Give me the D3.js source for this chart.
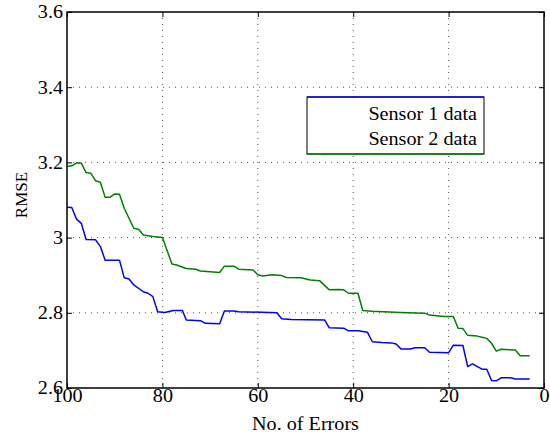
<!DOCTYPE html>
<html>
<head>
<meta charset="utf-8">
<script src="https://cdn.jsdelivr.net/npm/d3@7/dist/d3.min.js"></script>
<style>
  html, body { margin: 0; padding: 0; background: #fff; }
  svg { display: block; }
  svg text { font-family: "Liberation Serif", "Times New Roman", serif !important; fill: #000; }
</style>
</head>
<body>
<svg id="chart" width="550" height="436"></svg>
<script>
// ---- data ----
const sensor1X = [100,99,98,97,96,94,93,92,89,88,87,86,84,83,82,81,79.5,77.7,75.8,75,72,71,68,67,65,64,56,55,53,46,45,42,41,39,37,36,34,32,31,30,28,27,25,24,20,19,17,16,15,13,12,11,10,9,7,6,3];
const sensor1Y = [3.081,3.080,3.049,3.038,2.995,2.994,2.976,2.940,2.940,2.893,2.890,2.874,2.856,2.852,2.843,2.803,2.801,2.806,2.806,2.781,2.779,2.772,2.771,2.805,2.805,2.803,2.800,2.784,2.782,2.781,2.760,2.759,2.752,2.752,2.748,2.723,2.721,2.720,2.717,2.704,2.704,2.707,2.707,2.695,2.694,2.714,2.713,2.657,2.664,2.650,2.650,2.620,2.619,2.627,2.627,2.624,2.624];
const sensor2X = [100,99,98,97,96,95,94,93,92,91,90,89,88,86,85,84,82,80,78,77,75,73,72,70,68,67,65,64,61,60,59,57,55,54,51,49,47,45,43,42,41,39,38,36,30,25,24,21,19,18,17,16,14,13,12,11,10,9,6,5,3];
const sensor2Y = [3.189,3.191,3.199,3.198,3.173,3.171,3.151,3.147,3.107,3.107,3.116,3.115,3.078,3.025,3.022,3.007,3.003,3.000,2.930,2.927,2.918,2.916,2.911,2.909,2.907,2.924,2.924,2.916,2.914,2.901,2.898,2.901,2.899,2.894,2.893,2.887,2.885,2.861,2.862,2.861,2.852,2.852,2.806,2.804,2.801,2.799,2.794,2.790,2.790,2.759,2.758,2.740,2.738,2.735,2.732,2.719,2.698,2.703,2.701,2.686,2.686];
const xTicks = [100,80,60,40,20,0];
const yTicks = [2.6,2.8,3.0,3.2,3.4,3.6];
const yTickLabels = ["2.6","2.8","3","3.2","3.4","3.6"];
const seriesNames = ["Sensor 1 data","Sensor 2 data"];
const seriesColors = ["#0000ff","#008000"];

// ---- layout ----
const FONT = '"Liberation Serif", "Times New Roman", serif';
const L = 67, R = 544, T = 12, B = 388;
const svg = d3.select("#chart");
const x = d3.scaleLinear().domain([100,0]).range([L,R]);
const y = d3.scaleLinear().domain([2.6,3.6]).range([B,T]);
const SX = 1.12; // horizontal text stretch

// grid
const grid = svg.append("g");
grid.selectAll("line.vx").data(xTicks.slice(1,-1)).enter().append("line")
  .attr("x1", d=>x(d)).attr("x2", d=>x(d)).attr("y1", T).attr("y2", B)
  .attr("stroke","#555").attr("stroke-width",1).attr("stroke-dasharray","1,5");
grid.selectAll("line.hy").data(yTicks.slice(1,-1)).enter().append("line")
  .attr("y1", d=>y(d)).attr("y2", d=>y(d)).attr("x1", L).attr("x2", R)
  .attr("stroke","#555").attr("stroke-width",1).attr("stroke-dasharray","1,5");

// lines
const series = [
  sensor1X.map((v,i)=>[v, sensor1Y[i]]),
  sensor2X.map((v,i)=>[v, sensor2Y[i]])
];
const line = d3.line().x(d=>x(d[0])).y(d=>y(d[1]));
svg.selectAll("path.series").data(series).enter().append("path")
  .attr("d", line).attr("fill","none")
  .attr("stroke", (d,i)=>seriesColors[i]).attr("stroke-width",1.5)
  .attr("stroke-linejoin","round");

// axes
const fmtY = d => yTickLabels[yTicks.findIndex(t=>Math.abs(t-d)<1e-9)];
const gx = svg.append("g").attr("transform",`translate(0,${B})`)
  .call(d3.axisBottom(x).tickValues(xTicks).tickSizeInner(-5).tickSizeOuter(0).tickFormat(d3.format("d")));
const gy = svg.append("g").attr("transform",`translate(${L},0)`)
  .call(d3.axisLeft(y).tickValues(yTicks).tickSizeInner(-5).tickSizeOuter(0).tickFormat(fmtY));
svg.append("g").attr("transform",`translate(0,${T})`)
  .call(d3.axisTop(x).tickValues(xTicks).tickSizeInner(-5).tickSizeOuter(0).tickFormat(""));
svg.append("g").attr("transform",`translate(${R},0)`)
  .call(d3.axisRight(y).tickValues(yTicks).tickSizeInner(-5).tickSizeOuter(0).tickFormat(""));
svg.selectAll(".domain").remove();
svg.selectAll("g").attr("font-family", FONT);
svg.selectAll(".tick line").attr("stroke","#000").attr("stroke-width",1);

gx.selectAll("text").attr("y",14).attr("dy",null)
  .style("font-family", FONT).style("font-size","18px")
  .attr("transform",`scale(${SX},1)`);
gy.selectAll("text").attr("x",-4/SX).attr("dy","0.33em")
  .style("font-family", FONT).style("font-size","18px")
  .attr("transform",`scale(${SX},1)`);

// frame
svg.append("rect").attr("x",L).attr("y",T).attr("width",R-L).attr("height",B-T)
  .attr("fill","none").attr("stroke","#000").attr("stroke-width",1.5);

// axis titles
svg.append("text").attr("transform",`translate(${(L+R)/2},430) scale(${SX},1)`)
  .attr("text-anchor","middle").style("font-size","18px").text("No. of Errors");
svg.append("text").attr("transform",`translate(27,195) rotate(-90)`)
  .attr("text-anchor","middle").style("font-size","17px").text("RMSE");

// legend
const lg = svg.append("g");
const lx0 = 307, lx1 = 484, ly0 = 97, ly1 = 154;
lg.append("rect").attr("x",lx0).attr("y",ly0).attr("width",lx1-lx0).attr("height",ly1-ly0)
  .attr("fill","#fff").attr("stroke","#000").attr("stroke-width",1);
lg.append("line").attr("x1",lx0).attr("x2",lx1).attr("y1",ly0).attr("y2",ly0)
  .attr("stroke",seriesColors[0]).attr("stroke-width",1.5);
lg.append("line").attr("x1",lx0).attr("x2",lx1).attr("y1",ly1).attr("y2",ly1)
  .attr("stroke",seriesColors[1]).attr("stroke-width",1.5);
lg.selectAll("text").data(seriesNames).enter().append("text")
  .attr("transform",(d,i)=>`translate(477,${120+i*24.5}) scale(${SX},1)`)
  .attr("text-anchor","end").style("font-size","18px").text(d=>d);
</script>
</body>
</html>
